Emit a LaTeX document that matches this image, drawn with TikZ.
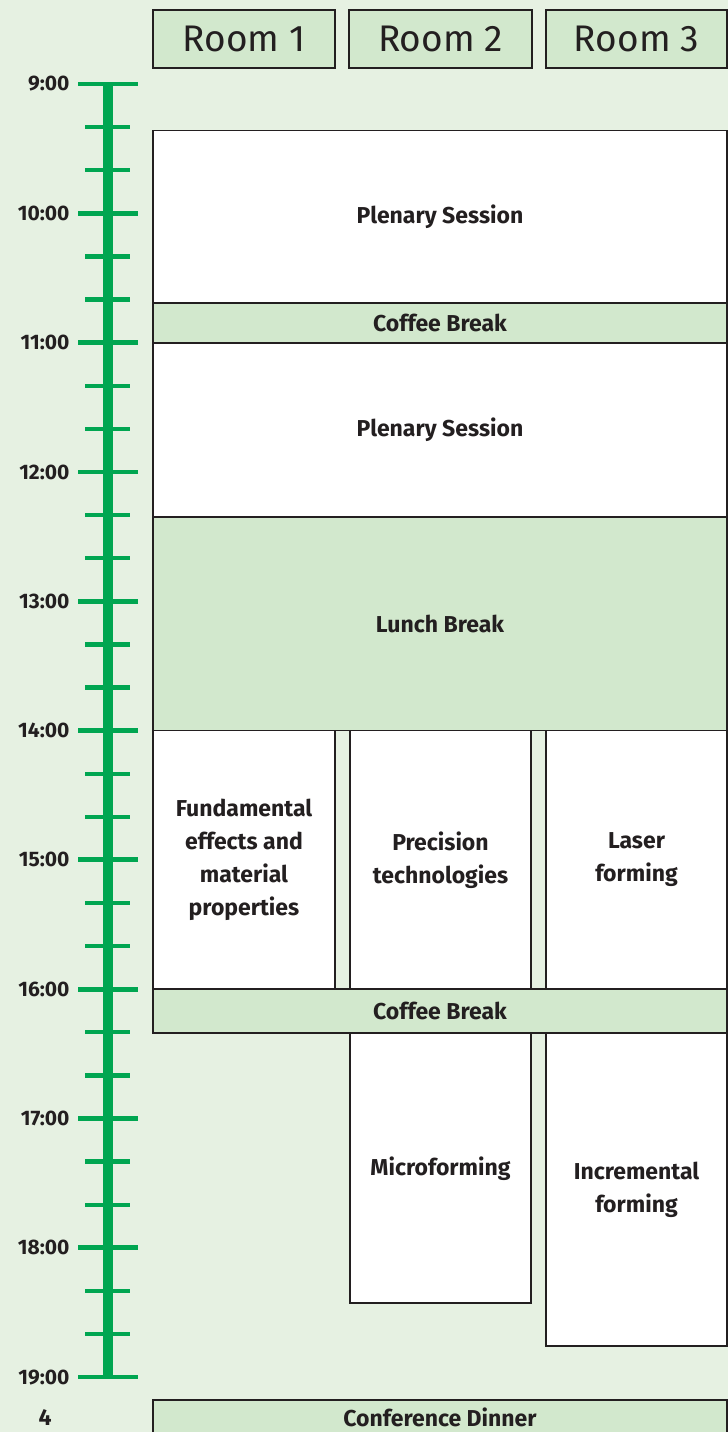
\documentclass[tikz,border=0pt]{standalone}
\usepackage{fontspec}
\setmainfont{Fira Sans}
\usetikzlibrary{fit}

\definecolor{pagegreen}{RGB}{230,241,226}
\definecolor{boxgreen}{RGB}{210,232,205}
\definecolor{axisgreen}{RGB}{0,166,81}
\definecolor{inkgray}{RGB}{35,31,32}

\begin{document}
\begin{tikzpicture}[
        x=1pt, y={(0pt,-129.3pt)},
        every node/.style={text=inkgray, font=\fontsize{23}{33}\selectfont\bfseries},
        every label/.style={align=center},
        slot/.style={draw=inkgray, line width=1.8pt, fill=white, inner sep=0pt},
        brk/.style={slot, fill=boxgreen},
        roomtext/.style={font=\fontsize{37}{40}\selectfont},
        hour/.style={anchor=east, font=\fontsize{21}{24}\selectfont\bfseries},
        minortick/.style={draw=axisgreen, line width=4.3pt},
        hourtick/.style={draw=axisgreen, line width=4.8pt},
    ]
    \fill[pagegreen] (0,-0.65) rectangle (728,10.425);
    \useasboundingbox (0,-0.65) rectangle (728,10.425);

    % rooms
    \node[brk, fit={(153,-0.572) (335,-0.124)}, label={[roomtext]center:Room 1}](room1){};
    \node[brk, fit={(349,-0.572) (532,-0.124)}, label={[roomtext]center:Room 2}](room2){};
    \node[brk, fit={(546,-0.572) (727,-0.124)}, label={[roomtext]center:Room 3}](room3){};

    % time axis
    \draw[axisgreen, line width=10pt] (108,0) -- (108,10);
    \foreach \k in {0,...,30}
        \draw[minortick] (85,\k/3) -- (130,\k/3);
    \foreach \h [count=\i from 0] in {9,...,19}{
        \draw[hourtick] (78,\i) -- (138,\i);
        \node[hour](t\h) at (73,\i){\h:00};
    }

    % morning
    \node[slot, fit={(153,0.36) (727,1.694)}, label=center:Plenary Session](plenary1){};
    \node[brk, fit={(153,1.694) (727,2.0)}, label=center:Coffee Break](coffee1){};
    \node[slot, fit={(153,2.0) (727,3.349)}, label=center:Plenary Session](plenary2){};
    \node[brk, fit={(153,3.349) (727,5.0)}, label=center:Lunch Break](lunch){};

    % afternoon
    \node[slot, fit={(153,5.0) (335,7.0)}, label={center:Fundamental\\effects and\\material\\properties}](fundamental){};
    \node[slot, fit={(350,5.0) (531,7.0)}, label={center:Precision\\technologies}](precision){};
    \node[slot, fit={(546,5.0) (727,7.0)}, label={center:Laser\\forming}](laser){};
    \node[brk, fit={(153,7.0) (727,7.34)}, label=center:Coffee Break](coffee2){};
    \node[slot, fit={(350,7.34) (531,9.43)}, label=center:Microforming](micro){};
    \node[slot, fit={(546,7.34) (727,9.76)}, label={center:Incremental\\forming}](incremental){};
    \node[brk, fit={(153,10.18) (727,10.45)}, label=center:Conference Dinner](dinner){};

    \node(page) at (45,10.31){4};
\end{tikzpicture}
\end{document}
